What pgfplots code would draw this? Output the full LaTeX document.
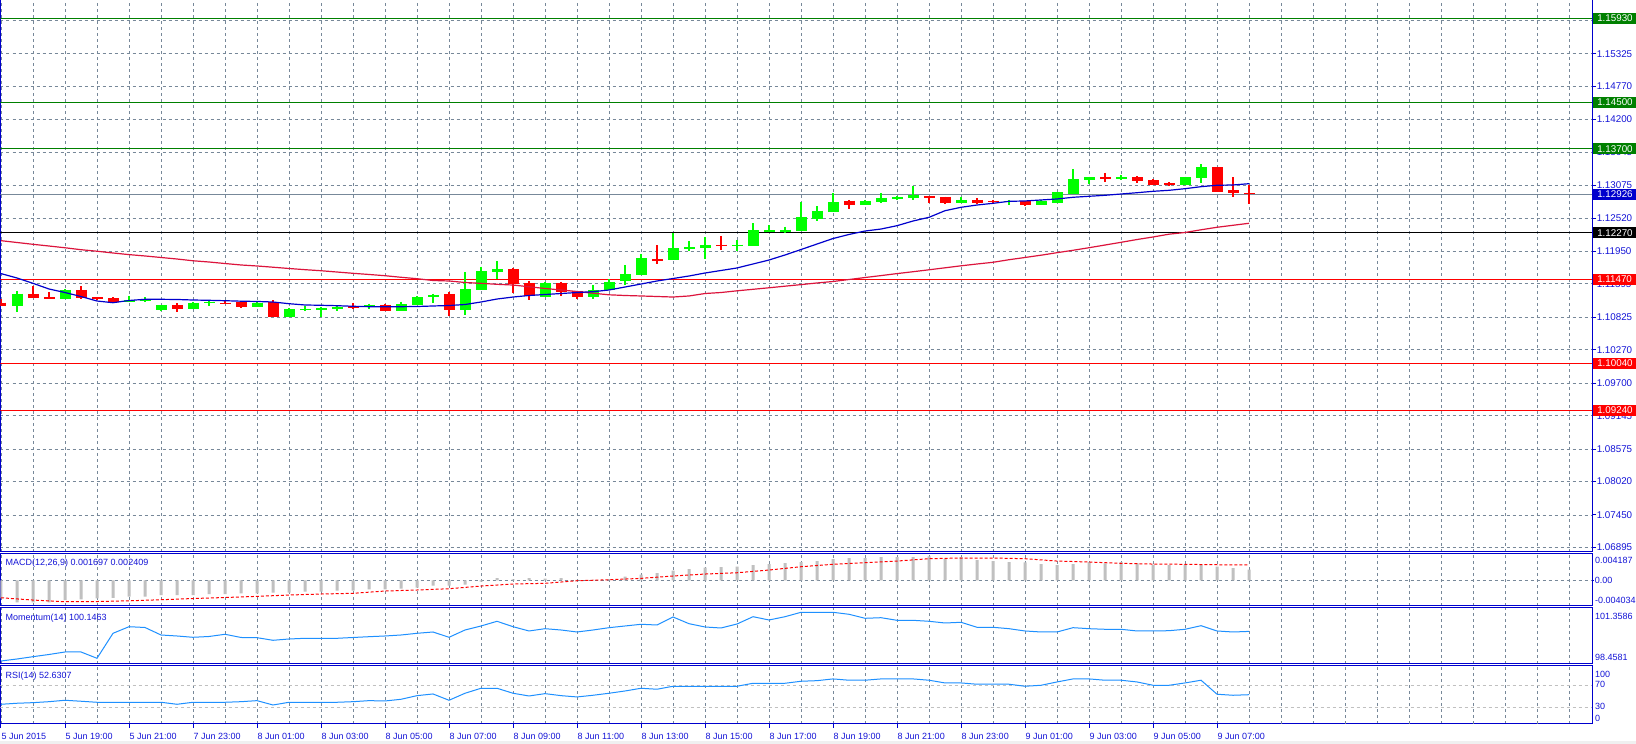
\documentclass[border=0pt]{standalone}
\usepackage{fontspec}
\setmainfont{Liberation Sans}
\usepackage{pgfplots}
\usepackage{pgfplotstable}
\pgfplotsset{compat=1.18}

\definecolor{mtblue}{RGB}{0,0,205}
\definecolor{mttext}{RGB}{20,20,215}
\definecolor{mtgrid}{RGB}{119,136,153}
\definecolor{bull}{RGB}{0,255,0}
\definecolor{bear}{RGB}{255,0,0}
\definecolor{fastma}{RGB}{0,0,205}
\definecolor{slowma}{RGB}{220,20,60}
\definecolor{lvgreen}{RGB}{0,128,0}
\definecolor{silverbar}{RGB}{192,192,192}
\definecolor{dodger}{RGB}{30,144,255}

% EURUSD M30 candles: bar index, open, high, low, close
\pgfplotstableread{
i O H L C
0 1.11074 1.11137 1.11023 1.11023
1 1.11023 1.11274 1.10920 1.11228
2 1.11223 1.11359 1.11155 1.11160
3 1.11171 1.11257 1.11138 1.11142
4 1.11142 1.11300 1.11135 1.11291
5 1.11291 1.11359 1.11142 1.11160
6 1.11171 1.11175 1.11120 1.11137
7 1.11154 1.11171 1.11088 1.11091
8 1.11091 1.11194 1.11081 1.11120
9 1.11108 1.11166 1.11091 1.11137
10 1.10950 1.11040 1.10932 1.11035
11 1.11035 1.11064 1.10915 1.10971
12 1.10967 1.11086 1.10960 1.11069
13 1.11064 1.11108 1.11023 1.11081
14 1.11074 1.11108 1.11047 1.11057
15 1.11091 1.11100 1.10989 1.11006
16 1.11006 1.11091 1.11000 1.11074
17 1.11081 1.11115 1.10825 1.10830
18 1.10830 1.10979 1.10825 1.10967
19 1.10955 1.11018 1.10938 1.10972
20 1.10955 1.10996 1.10835 1.10984
21 1.10967 1.11018 1.10938 1.11001
22 1.11018 1.11064 1.10972 1.10989
23 1.11001 1.11057 1.10972 1.11035
24 1.11035 1.11052 1.10927 1.10938
25 1.10938 1.11091 1.10927 1.11052
26 1.11040 1.11188 1.11035 1.11171
27 1.11163 1.11228 1.11064 1.11209
28 1.11223 1.11257 1.10847 1.10955
29 1.10955 1.11598 1.10869 1.11308
30 1.11296 1.11689 1.11290 1.11615
31 1.11603 1.11786 1.11474 1.11649
32 1.11649 1.11661 1.11234 1.11399
33 1.11411 1.11450 1.11125 1.11194
34 1.11177 1.11428 1.11170 1.11411
35 1.11411 1.11428 1.11194 1.11262
36 1.11269 1.11280 1.11132 1.11177
37 1.11177 1.11371 1.11142 1.11286
38 1.11296 1.11474 1.11290 1.11428
39 1.11440 1.11718 1.11382 1.11565
40 1.11547 1.11906 1.11540 1.11837
41 1.11820 1.12059 1.11740 1.11786
42 1.11808 1.12259 1.11800 1.12008
43 1.11991 1.12128 1.11957 1.12025
44 1.12013 1.12191 1.11825 1.12059
45 1.12064 1.12213 1.11974 1.12037
46 1.12037 1.12145 1.11962 1.12064
47 1.12047 1.12429 1.12040 1.12315
48 1.12281 1.12395 1.12275 1.12310
49 1.12281 1.12372 1.12264 1.12321
50 1.12298 1.12793 1.12290 1.12537
51 1.12503 1.12725 1.12469 1.12645
52 1.12623 1.12952 1.12615 1.12793
53 1.12816 1.12828 1.12674 1.12747
54 1.12747 1.12828 1.12737 1.12811
55 1.12799 1.12942 1.12771 1.12862
56 1.12845 1.12901 1.12828 1.12879
57 1.12867 1.13067 1.12828 1.12918
58 1.12896 1.12900 1.12771 1.12862
59 1.12879 1.12885 1.12765 1.12782
60 1.12782 1.12884 1.12775 1.12828
61 1.12828 1.12857 1.12759 1.12782
62 1.12806 1.12828 1.12771 1.12789
63 1.12799 1.12828 1.12742 1.12811
64 1.12811 1.12815 1.12725 1.12747
65 1.12747 1.12828 1.12740 1.12811
66 1.12782 1.12970 1.12775 1.12964
67 1.12930 1.13357 1.12925 1.13186
68 1.13174 1.13225 1.13096 1.13220
69 1.13220 1.13289 1.13140 1.13186
70 1.13186 1.13249 1.13169 1.13220
71 1.13220 1.13237 1.13123 1.13157
72 1.13169 1.13186 1.13084 1.13089
73 1.13113 1.13135 1.13072 1.13089
74 1.13084 1.13225 1.13080 1.13220
75 1.13208 1.13442 1.13123 1.13391
76 1.13391 1.13395 1.12960 1.12969
77 1.12998 1.13215 1.12879 1.12942
78 1.12947 1.13084 1.12765 1.12926
}\candles

% moving averages: fast (blue) and slow (crimson)
\pgfplotstableread{
i fast slow
0 1.11571 1.12133
1 1.11496 1.12102
2 1.11405 1.12071
3 1.11308 1.12042
4 1.11248 1.12012
5 1.11180 1.11979
6 1.11103 1.11953
7 1.11074 1.11923
8 1.11112 1.11895
9 1.11132 1.11872
10 1.11132 1.11846
11 1.11129 1.11820
12 1.11120 1.11790
13 1.11115 1.11769
14 1.11108 1.11743
15 1.11100 1.11718
16 1.11095 1.11701
17 1.11086 1.11680
18 1.11057 1.11658
19 1.11035 1.11638
20 1.11030 1.11620
21 1.11023 1.11598
22 1.11013 1.11576
23 1.11006 1.11556
24 1.11006 1.11535
25 1.11006 1.11508
26 1.11009 1.11484
27 1.11018 1.11453
28 1.11026 1.11445
29 1.11043 1.11419
30 1.11086 1.11405
31 1.11137 1.11388
32 1.11171 1.11376
33 1.11197 1.11346
34 1.11214 1.11317
35 1.11231 1.11291
36 1.11248 1.11265
37 1.11262 1.11236
38 1.11291 1.11209
39 1.11342 1.11197
40 1.11393 1.11189
41 1.11445 1.11180
42 1.11487 1.11171
43 1.11530 1.11189
44 1.11581 1.11231
45 1.11624 1.11248
46 1.11667 1.11277
47 1.11735 1.11303
48 1.11803 1.11329
49 1.11889 1.11356
50 1.11982 1.11383
51 1.12076 1.11411
52 1.12170 1.11436
53 1.12239 1.11470
54 1.12298 1.11504
55 1.12332 1.11537
56 1.12389 1.11571
57 1.12469 1.11603
58 1.12532 1.11636
59 1.12645 1.11670
60 1.12703 1.11704
61 1.12742 1.11735
62 1.12771 1.11764
63 1.12805 1.11808
64 1.12811 1.11846
65 1.12828 1.11885
66 1.12845 1.11928
67 1.12874 1.11969
68 1.12891 1.12013
69 1.12908 1.12059
70 1.12930 1.12105
71 1.12952 1.12153
72 1.12976 1.12196
73 1.12993 1.12244
74 1.13021 1.12273
75 1.13055 1.12319
76 1.13079 1.12362
77 1.13084 1.12396
78 1.13106 1.12430
}\mas

% MACD main, Momentum(14), RSI(14)
\pgfplotstableread{
i macd mom rsi
0 -0.00283 98.614 35.0
1 -0.00346 98.717 36.9
2 -0.00346 98.837 38.0
3 -0.00346 98.951 39.8
4 -0.00310 99.080 42.4
5 -0.00299 99.080 40.6
6 -0.00283 98.754 38.7
7 -0.00274 100.048 38.7
8 -0.00258 100.390 38.7
9 -0.00258 100.349 38.7
10 -0.00231 99.960 38.7
11 -0.00231 99.909 35.0
12 -0.00231 99.841 38.7
13 -0.00215 99.883 38.7
14 -0.00215 99.997 38.7
15 -0.00204 99.831 39.8
16 -0.00204 99.821 41.7
17 -0.00195 99.686 33.7
18 -0.00195 99.753 38.7
19 -0.00179 99.789 38.7
20 -0.00179 99.789 38.7
21 -0.00163 99.789 38.7
22 -0.00163 99.831 39.8
23 -0.00141 99.872 41.7
24 -0.00141 99.909 41.1
25 -0.00132 99.960 44.2
26 -0.00116 100.048 50.9
27 -0.00085 100.116 54.0
28 -0.00085 99.841 42.4
29 -0.00069 100.219 55.3
30 -0.00022 100.427 64.5
31 0.00036 100.670 64.5
32 0.00016 100.390 55.3
33 0.00036 100.168 50.3
34 0.00025 100.287 54.6
35 0.00036 100.219 50.9
36 0.00009 100.116 48.5
37 0.00009 100.219 51.6
38 0.00020 100.339 55.3
39 0.00057 100.427 59.5
40 0.00088 100.515 64.5
41 0.00115 100.478 62.7
42 0.00151 100.893 68.2
43 0.00178 100.546 68.2
44 0.00198 100.375 68.2
45 0.00209 100.323 68.2
46 0.00214 100.530 68.2
47 0.00241 100.908 73.7
48 0.00256 100.737 73.7
49 0.00272 100.908 73.7
50 0.00288 101.136 77.4
51 0.00303 101.136 78.5
52 0.00335 101.136 81.7
53 0.00351 101.032 79.3
54 0.00351 100.825 79.3
55 0.00366 100.856 81.7
56 0.00366 100.721 81.7
57 0.00366 100.721 81.7
58 0.00377 100.670 79.3
59 0.00340 100.582 74.3
60 0.00366 100.618 74.3
61 0.00319 100.359 71.9
62 0.00303 100.359 71.9
63 0.00288 100.287 71.9
64 0.00283 100.168 68.2
65 0.00256 100.116 70.0
66 0.00241 100.116 76.1
67 0.00256 100.339 81.7
68 0.00288 100.287 81.7
69 0.00267 100.256 79.3
70 0.00288 100.256 79.3
71 0.00267 100.168 76.1
72 0.00245 100.168 70.0
73 0.00241 100.183 70.0
74 0.00245 100.256 74.3
75 0.00245 100.442 79.3
76 0.00214 100.168 53.5
77 0.00193 100.116 51.6
78 0.001697 100.1463 52.6307
}\osc

% MACD signal line
\pgfplotstableread{
i sig
0 -0.00274
2 -0.00310
4 -0.00336
6 -0.00333
8 -0.00322
10 -0.00305
12 -0.00286
14 -0.00270
16 -0.00252
18 -0.00231
20 -0.00215
22 -0.00204
24 -0.00168
26 -0.00152
28 -0.00132
30 -0.00090
32 -0.00058
34 -0.00047
36 -0.00006
38 0.00009
40 0.00031
42 0.00068
44 0.00099
46 0.00119
48 0.00162
50 0.00214
52 0.00252
54 0.00277
56 0.00303
58 0.00340
60 0.00351
62 0.00351
64 0.00340
66 0.00303
68 0.00288
70 0.00267
72 0.00256
74 0.00252
76 0.00245
78 0.002409
}\signal

\pgfplotsset{
  mtpanel/.style={
    scale only axis, width=1591.5pt, anchor=south west,
    xmin=-0.03125, xmax=99.4375,
    scaled x ticks=false, scaled y ticks=false,
    axis line style={mtblue, line width=1pt},
    xmajorgrids, xminorgrids,
    minor xtick={2,6,...,98},
    minor tick length=0pt,
    major grid style={mtgrid, line width=0.9pt, dash pattern=on 3pt off 3pt},
    minor grid style={mtgrid, line width=0.9pt, dash pattern=on 3pt off 3pt},
    ytick=\empty,
    tick align=outside,
    ytick pos=right, yticklabel pos=right,
    xtick pos=bottom,
    tick style={mtblue, line width=1pt},
    major tick length=4pt,
    ticklabel style={font=\fontsize{9}{10}\selectfont, text=mttext, inner sep=0pt},
    yticklabel style={anchor=west, xshift=0.5pt},
  },
  upper/.style={mtpanel, xtick={0,4,...,96}, xticklabels={}, xtick style={draw=none}},
}
\tikzset{
  lab/.style={font=\fontsize{9}{10}\selectfont, text=mttext, inner sep=0pt, anchor=west},
  pbox/.style={font=\fontsize{9.8}{11}\selectfont, text=white, fill=#1, anchor=west,
    minimum height=11pt, inner ysep=0pt, inner xsep=4.5pt, text width=40pt, align=left},
}

\begin{document}
\begin{tikzpicture}[x=1pt,y=1pt]
\fill[white] (0,0) rectangle (1636,744);
\fill[black!6] (0,0) rectangle (1636,3);
\begin{scope}
\clip (0,0) rectangle (1636,744);

% ---------- price panel ----------
\begin{axis}[upper, at={(0.5pt,192.3pt)}, height=552.7pt,
  ymin=1.068227, ymax=1.162595,
  ytick={1.06895,1.07450,1.08020,1.08575,1.09145,1.09700,1.10270,1.10825,1.11395,1.11950,1.12520,1.13075,1.13645,1.14200,1.14770,1.15325,1.15895},
  yticklabels={1.06895,1.07450,1.08020,1.08575,1.09145,1.09700,1.10270,1.10825,1.11395,1.11950,1.12520,1.13075,1.13645,1.14200,1.14770,1.15325,1.15895},
  yticklabel style={font=\fontsize{9.8}{11}\selectfont},
  ymajorgrids]
  \addplot[lvgreen, line width=1pt] coordinates {(-0.03125,1.15930) (99.4375,1.15930)};
  \addplot[lvgreen, line width=1pt] coordinates {(-0.03125,1.14500) (99.4375,1.14500)};
  \addplot[lvgreen, line width=1pt] coordinates {(-0.03125,1.13700) (99.4375,1.13700)};
  \addplot[mtgrid, line width=1pt] coordinates {(-0.03125,1.12926) (99.4375,1.12926)};
  \addplot[black, line width=1pt] coordinates {(-0.03125,1.12270) (99.4375,1.12270)};
  \addplot[bear, line width=1pt] coordinates {(-0.03125,1.11470) (99.4375,1.11470)};
  \addplot[bear, line width=1pt] coordinates {(-0.03125,1.10040) (99.4375,1.10040)};
  \addplot[bear, line width=1pt] coordinates {(-0.03125,1.09240) (99.4375,1.09240)};
  % wicks
  \addplot[draw=none, mark=none, restrict expr to domain={\thisrow{C}-\thisrow{O}}{0:1},
    error bars/.cd, y dir=minus, y explicit, error mark=none,
    error bar style={draw=bull, line width=1.2pt}]
    table[x=i, y=H, y error minus expr={\thisrow{H}-\thisrow{L}}] {\candles};
  \addplot[draw=none, mark=none, restrict expr to domain={\thisrow{C}-\thisrow{O}}{-1:0},
    error bars/.cd, y dir=minus, y explicit, error mark=none,
    error bar style={draw=bear, line width=1.2pt}]
    table[x=i, y=H, y error minus expr={\thisrow{H}-\thisrow{L}}] {\candles};
  % bodies
  \addplot[draw=none, mark=none, restrict expr to domain={\thisrow{C}-\thisrow{O}}{0:1},
    error bars/.cd, y dir=minus, y explicit, error mark=none,
    error bar style={draw=bull, line width=11pt}]
    table[x=i, y=C, y error minus expr={\thisrow{C}-\thisrow{O}}] {\candles};
  \addplot[draw=none, mark=none, restrict expr to domain={\thisrow{C}-\thisrow{O}}{-1:0},
    error bars/.cd, y dir=minus, y explicit, error mark=none,
    error bar style={draw=bear, line width=11pt}]
    table[x=i, y=O, y error minus expr={\thisrow{O}-\thisrow{C}}] {\candles};
  % moving averages
  \addplot[slowma, line width=1.2pt] table[x=i, y=slow] {\mas};
  \addplot[fastma, line width=1.2pt] table[x=i, y=fast] {\mas};
  \coordinate (b1) at (axis cs:99.4375,1.15930);
  \coordinate (b2) at (axis cs:99.4375,1.14500);
  \coordinate (b3) at (axis cs:99.4375,1.13700);
  \coordinate (b4) at (axis cs:99.4375,1.12926);
  \coordinate (b5) at (axis cs:99.4375,1.12270);
  \coordinate (b6) at (axis cs:99.4375,1.11470);
  \coordinate (b7) at (axis cs:99.4375,1.10040);
  \coordinate (b8) at (axis cs:99.4375,1.09240);
\end{axis}

% ---------- MACD ----------
\begin{axis}[upper, at={(0.5pt,138pt)}, height=52.3pt,
  ymin=-0.004034, ymax=0.004187,
  ytick={0}, yticklabels={0.00}, major tick length=2pt, ymajorgrids]
  \addplot[ybar, bar width=3pt, fill=silverbar, draw=none] table[x=i, y=macd] {\osc};
  \addplot[bear, line width=1pt, dash pattern=on 3pt off 2pt] table[x=i, y=sig] {\signal};
\end{axis}

% ---------- Momentum ----------
\begin{axis}[upper, at={(0.5pt,80pt)}, height=56pt,
  ymin=98.4581, ymax=101.3586]
  \addplot[dodger, line width=1pt] table[x=i, y=mom] {\osc};
\end{axis}

% ---------- RSI ----------
\begin{axis}[mtpanel, at={(0.5pt,20pt)}, height=58pt,
  ymin=-1.3, ymax=105.5,
  xtick={0,4,...,76},
  xticklabels={5 Jun 2015,5 Jun 19:00,5 Jun 21:00,7 Jun 23:00,8 Jun 01:00,8 Jun 03:00,8 Jun 05:00,8 Jun 07:00,8 Jun 09:00,8 Jun 11:00,8 Jun 13:00,8 Jun 15:00,8 Jun 17:00,8 Jun 19:00,8 Jun 21:00,8 Jun 23:00,9 Jun 01:00,9 Jun 03:00,9 Jun 05:00,9 Jun 07:00},
  extra x ticks={80,84,...,96}, extra x tick labels={},
  extra x tick style={major tick length=0pt},
  xticklabel style={anchor=north west, xshift=0.5pt, yshift=-5.5pt}]
  \addplot[silverbar, line width=1pt, dash pattern=on 3pt off 3pt] coordinates {(-0.03125,70) (99.4375,70)};
  \addplot[silverbar, line width=1pt, dash pattern=on 3pt off 3pt] coordinates {(-0.03125,30) (99.4375,30)};
  \addplot[dodger, line width=1pt] table[x=i, y=rsi] {\osc};
\end{axis}

% indicator captions
\node[lab] at (5.5,181.3) {MACD(12,26,9) 0.001697 0.002409};
\node[lab] at (5.5,126.3) {Momentum(14) 100.1463};
\node[lab] at (5.5,68) {RSI(14) 52.6307};

% right scale of the sub windows
\node[lab] at (1595,183.3) {0.004187};
\node[lab] at (1595,143.3) {-0.004034};
\node[lab] at (1595,128) {101.3586};
\node[lab] at (1595,86.7) {98.4581};
\node[lab] at (1595,70) {100};
\node[lab] at (1595,59.3) {70};
\node[lab] at (1595,38) {30};
\node[lab] at (1595,25.7) {0};

% price level tags
\node[pbox=lvgreen] at ([xshift=0.5pt]b1) {1.15930};
\node[pbox=lvgreen] at ([xshift=0.5pt]b2) {1.14500};
\node[pbox=lvgreen] at ([xshift=0.5pt]b3) {1.13700};
\node[pbox=mtblue] at ([xshift=0.5pt]b4) {1.12926};
\node[pbox=black] at ([xshift=0.5pt]b5) {1.12270};
\node[pbox=bear] at ([xshift=0.5pt]b6) {1.11470};
\node[pbox=bear] at ([xshift=0.5pt]b7) {1.10040};
\node[pbox=bear] at ([xshift=0.5pt]b8) {1.09240};
\end{scope}
\pgfresetboundingbox
\path[use as bounding box] (0,0) rectangle (1636,744);
\end{tikzpicture}
\end{document}
